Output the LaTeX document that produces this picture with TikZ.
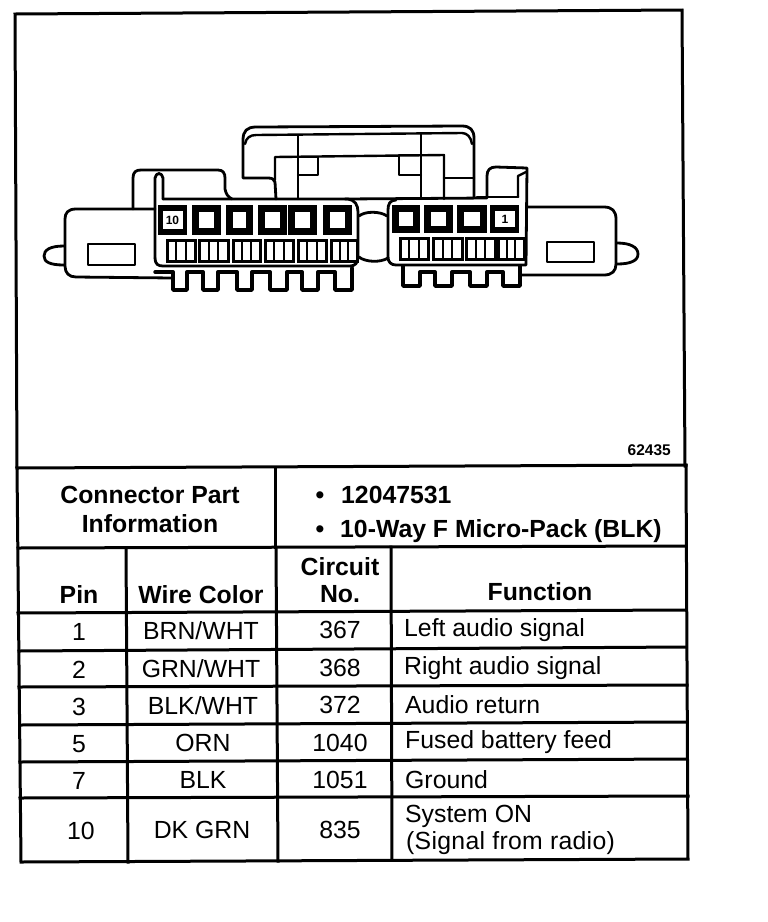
\documentclass[tikz,border=0pt]{standalone}
\usepackage{fontspec}
\setmainfont{Liberation Sans}
\tikzset{
  ln/.style={line width=2.8pt,black,line join=round,line cap=round},
  th/.style={line width=2.4pt,black,line join=round,line cap=round},
  rl/.style={line width=3pt,black,line cap=rect},
  hd/.style={font=\fontsize{24.8}{28}\selectfont\bfseries,align=center,inner sep=0pt},
  cell/.style={font=\fontsize{24.8}{28}\selectfont,align=center,inner sep=0pt},
  fn/.style={font=\fontsize{24.8}{28}\selectfont,align=left,anchor=west,inner sep=0pt},
}
% #1 left, #2 right, #3 top, #4 bottom
\newcommand{\cavity}[4]{%
  \fill[black] (#1,#3) rectangle (#2,#4);
  \fill[white] (#1+7,#3+7) rectangle (#2-7,#4-7);
}
\newcommand{\numcavity}[4]{%
  \fill[black] (#1,#3) rectangle (#2,#4);
  \fill[white] (#1+4.5,#3+6) rectangle (#2-4.5,#4-6);
}
\newcommand{\slot}[4]{%
  \draw[line width=3pt,fill=white] (#1,#3) rectangle (#2,#4);
  \draw[line width=2.2pt] ({#1+(#2-#1)/3},#3) -- ({#1+(#2-#1)/3},#4) ({#1+2*(#2-#1)/3},#3) -- ({#1+2*(#2-#1)/3},#4);
}
\begin{document}
\begin{tikzpicture}[x=1pt,y=-1pt]
\useasboundingbox (0,0) rectangle (768,922);
\fill[white] (0,0) rectangle (768,922);
% frame
\draw[rl] (17,467) -- (15,14) -- (682,10) -- (685,466);
% left ear
\draw[ln] (64,246) .. controls (50,246) and (44,250) .. (44,256) .. controls (44,262) and (50,265) .. (64,265);
\draw[ln] (155,209) -- (76,209) .. controls (68,209) and (65,213) .. (65,219) -- (65,266) .. controls (65,273) and (69,277) .. (76,277) -- (173,278);
\draw[ln] (88,244) rectangle (135,265);
% left flap
\draw[ln] (133,209) -- (133,178) .. controls (133,172) and (136,170) .. (141,170) -- (218,170) .. controls (223,170) and (225,173) .. (225,178) -- (225,189) .. controls (226,194) and (228,197) .. (232,199);
% left block
\draw[ln] (155,258) .. controls (155,264) and (158,266) .. (163,266) -- (350,266) .. controls (355,266) and (358,263) .. (358,257) -- (358,212) .. controls (358,205) and (355,200) .. (348,199) -- (163,199);
\draw[ln] (155,258) -- (155,178) .. controls (156,172) and (162,172) .. (163,178) -- (163,199);
% bridge
\draw[ln] (276,199) -- (275,182) .. controls (274,179) and (272,178) .. (268,178) -- (243,178) -- (243,140) .. controls (243,131) and (247,127) .. (256,127) -- (462,126) .. controls (470,126) and (474,130) .. (474,138) -- (474,197);
\draw[th] (245,144) .. controls (246,138) and (250,135) .. (256,135) -- (462,133) .. controls (467,133) and (471,137) .. (472,144);
\draw[th] (275,180) -- (275,157) -- (444,155) -- (444,199);
\draw[th] (298,136) -- (298,199);
\draw[th] (298,157) -- (318,157) -- (318,175) -- (298,175);
\draw[th] (421,134) -- (421,199);
\draw[th] (421,155) -- (399,155) -- (399,175) -- (421,175);
\draw[th] (444,178) -- (474,178);
% centre link
\draw[ln] (359,216) .. controls (365,211) and (380,211) .. (387,216);
\draw[ln] (359,257) .. controls (365,262) and (380,263) .. (388,258);
% right block
\draw[ln] (345,199) -- (487,198);
\draw[ln] (477,197) -- (518,197);
\draw[ln] (396,200) .. controls (390,200) and (388,204) .. (388,210) -- (388,257) .. controls (388,262) and (391,265) .. (396,265) -- (526,265) -- (527,168) -- (496,167) .. controls (490,167) and (487,170) .. (487,176) -- (487,197);
\draw[th] (518,197) -- (518,176) -- (526,172);
% right ear
\draw[ln] (527,207) -- (604,207) .. controls (612,207) and (616,211) .. (616,219) -- (616,264) .. controls (616,271) and (612,275) .. (604,275) -- (520,275);
\draw[ln] (547,242) rectangle (594,262);
\draw[ln] (617,243) .. controls (630,243) and (638,247) .. (638,254) .. controls (638,261) and (630,264) .. (617,264);
% teeth, left
\draw[ln,line width=3.4pt] (155,272) -- (173,272) -- (173,290) -- (187,290) -- (187,272) -- (203,272) -- (203,290) -- (218,290) -- (218,272) -- (237,272) -- (237,290) -- (252,290) -- (252,272) -- (270,272) -- (270,290) -- (287,290) -- (287,272) -- (302,272) -- (302,290) -- (318,290) -- (318,272) -- (335,272) -- (335,290) -- (352,290) -- (352,268);
% teeth, right
\draw[ln,line width=3.4pt] (403,266) -- (403,286) -- (420,286) -- (420,272) -- (435,272) -- (435,286) -- (452,286) -- (452,272) -- (470,272) -- (470,286) -- (487,286) -- (487,272) -- (503,272) -- (503,286) -- (520,286) -- (520,266);
% cavities
\numcavity{158}{187}{205}{235}
\cavity{192}{221}{205}{235}
\cavity{226}{253}{205}{235}
\cavity{258}{287}{205}{235}
\cavity{288}{317}{205}{235}
\cavity{323}{352}{205}{235}
\cavity{392}{420}{205}{233}
\cavity{424}{453}{205}{233}
\cavity{457}{487}{205}{233}
\numcavity{490}{519}{205}{233}
% slots
\slot{167}{195}{240}{261}
\slot{199}{228}{240}{261}
\slot{233}{260}{240}{261}
\slot{265}{293}{240}{261}
\slot{298}{326}{240}{261}
\slot{331}{357}{240}{261}
\slot{400}{428}{238}{259}
\slot{433}{462}{238}{259}
\slot{466}{495}{238}{259}
\slot{498}{524}{238}{259}
\node[inner sep=0pt,font=\fontsize{12}{12}\selectfont\bfseries] (pten) at (172.5,220) {10};
\node[inner sep=0pt,font=\fontsize{12}{12}\selectfont\bfseries] (pone) at (505,219) {1};
\node[inner sep=0pt,font=\fontsize{15.5}{16}\selectfont\bfseries,anchor=east] (ref) at (671,450) {62435};
% table
\draw[rl] (17,468) -- (686,465);
\draw[rl] (17,468) -- (21,862) -- (688,859) -- (686,465);
\draw[rl] (18,548) -- (686,546);
\draw[rl] (275,467) -- (275,547);
\draw[rl] (18,613) -- (686,610);
\draw[rl] (19,651) -- (686,647);
\draw[rl] (19,687) -- (687,685);
\draw[rl] (20,725) -- (687,722);
\draw[rl] (20,762) -- (687,759);
\draw[rl] (20,798) -- (688,796);
\draw[rl] (126,548) -- (128,862);
\draw[rl] (276,548) -- (278,861);
\draw[rl] (391,547) -- (392,860);
% header text
\node[hd] (cpi) at (150,509) {Connector Part\\[1pt]Information};
\node[hd,anchor=base] (bu) at (320,503) {\textbullet};
\node[hd,anchor=base west] (pn) at (341,503) {12047531};
\node[hd,anchor=base] (bv) at (320,537) {\textbullet};
\node[hd,anchor=base west] (pk) at (340,537) {10-Way F Micro-Pack (BLK)};
\node[hd] (hpin) at (79,595) {Pin};
\node[hd] (hwc) at (201,595) {Wire Color};
\node[hd] (hcn) at (340,580) {Circuit\\[-1pt]No.};
\node[hd] (hfn) at (540,592) {Function};
% rows
\node[cell] (p1) at (79,632) {1};
\node[cell] (w1) at (201,631) {BRN/WHT};
\node[cell] (c1) at (340,630) {367};
\node[fn] (f1) at (404,630) {Left audio signal};
\node[cell] (p2) at (79,670) {2};
\node[cell] (w2) at (201,669) {GRN/WHT};
\node[cell] (c2) at (340,668) {368};
\node[fn] (f2) at (404,668) {Right audio signal};
\node[cell] (p3) at (79,707) {3};
\node[cell] (w3) at (203,706) {BLK/WHT};
\node[cell] (c3) at (340,705) {372};
\node[fn] (f3) at (405,705) {Audio return};
\node[cell] (p5) at (79,744) {5};
\node[cell] (w5) at (203,743) {ORN};
\node[cell] (c5) at (340,743) {1040};
\node[fn] (f5) at (405,742) {Fused battery feed};
\node[cell] (p7) at (79,781) {7};
\node[cell] (w7) at (203,780) {BLK};
\node[cell] (c7) at (340,780) {1051};
\node[fn] (f7) at (405,780) {Ground};
\node[cell] (p10) at (81,831) {10};
\node[cell] (w10) at (202,830) {DK GRN};
\node[cell] (c10) at (340,830) {835};
\node[fn] (f10a) at (405,816) {System ON};
\node[fn] (f10b) at (406,843) {\addfontfeature{LetterSpace=1.2}(Signal from radio)};
\end{tikzpicture}
\end{document}
